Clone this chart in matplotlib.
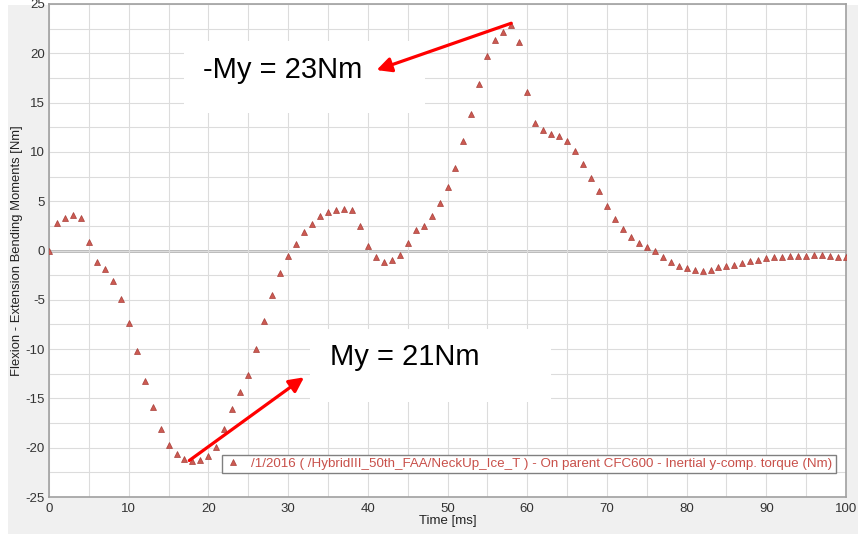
import matplotlib.pyplot as plt
from matplotlib.patches import Rectangle
import numpy as np

plt.rcParams['font.family'] = ['Liberation Sans', 'DejaVu Sans']
plt.rcParams['axes.unicode_minus'] = False

# time [ms] and neck moment My [Nm] (1 ms sampling)
time_ms = list(range(0, 101))
moment = [
    0.0, 2.8, 3.3, 3.6, 3.3, 0.9, -1.2, -1.9, -3.1, -4.9,
    -7.4, -10.2, -13.2, -15.9, -18.1, -19.7, -20.6, -21.1, -21.3, -21.2,
    -20.8, -19.9, -18.1, -16.1, -14.4, -12.6, -10.0, -7.1, -4.5, -2.3,
    -0.6, 0.7, 1.85, 2.7, 3.45, 3.9, 4.07, 4.2, 4.15, 2.45,
    0.46, -0.7, -1.17, -1.0, -0.46, 0.73, 2.06, 2.5, 3.5, 4.8,
    6.4, 8.4, 11.1, 13.8, 16.9, 19.7, 21.3, 22.2, 22.9, 21.1,
    16.1, 12.9, 12.2, 11.8, 11.6, 11.1, 10.1, 8.8, 7.4, 6.0,
    4.55, 3.2, 2.2, 1.37, 0.8, 0.39, -0.1, -0.7, -1.2, -1.54,
    -1.77, -1.95, -2.08, -2.0, -1.67, -1.57, -1.44, -1.23, -1.1, -0.96,
    -0.76, -0.66, -0.63, -0.56, -0.56, -0.52, -0.46, -0.49, -0.59, -0.63,
    -0.7,
]
series_label = ('/1/2016 ( /HybridIII_50th_FAA/NeckUp_Ice_T ) - On parent CFC600 '
                '- Inertial y-comp. torque (Nm)')

x_ticks = list(range(0, 101, 10))
y_ticks = list(range(-25, 26, 5))

# annotations: (text, text box [x0, x1, y0, y1], text position, arrow tail, arrow head)
max_label = '-My = 23Nm'
max_box = (16.9, 47.2, 13.9, 21.2)
max_text_xy = (19.3, 18.3)
max_tail = (58.0, 23.05)
max_head = (41.1, 18.3)

min_label = 'My = 21Nm'
min_box = (32.7, 63.0, -15.4, -8.0)
min_text_xy = (35.3, -10.8)
min_tail = (17.6, -21.3)
min_head = (32.0, -12.86)

fig = plt.figure(figsize=(8.58, 5.34), dpi=100)
fig.patch.set_facecolor('white')
fig.patches.append(Rectangle((8 / 858, 0), 1, 529 / 534, transform=fig.transFigure,
                             facecolor='#f0f0f0', edgecolor='none', zorder=-10))

ax = fig.add_axes([49 / 858, 1 - 497 / 534, 797 / 858, 493 / 534])
ax.set_facecolor('white')

ax.set_xlim(0, 100)
ax.set_ylim(-25, 25)
ax.set_xticks(x_ticks)
ax.set_yticks(y_ticks)
ax.set_xticks(np.arange(0, 101, 5), minor=True)
ax.set_yticks(np.arange(-25, 25.1, 2.5), minor=True)
ax.grid(True, which='both', color='#dcdcdc', linewidth=0.8, zorder=0)
ax.tick_params(which='both', length=0, labelsize=9.5, colors='#333333')
ax.tick_params(axis='x', pad=4.5)
ax.tick_params(axis='y', pad=3)
ax.axhline(0, color='#a6a6a6', linewidth=1.8, zorder=1)

for spine in ax.spines.values():
    spine.set_color('#a0a0a0')
    spine.set_linewidth(1.2)

ax.plot(time_ms, moment, linestyle='none', marker='^', markersize=4.2,
        markerfacecolor='#cc5a52', markeredgecolor='#a8403a', markeredgewidth=0.5,
        label=series_label, zorder=3)

ax.set_xlabel('Time [ms]', fontsize=9.5, color='#222222', labelpad=0)
ax.set_ylabel('Flexion - Extension Bending Moments [Nm]', fontsize=9.4,
              color='#222222')
ax.yaxis.set_label_coords(-0.033, 0.5)

# white callout boxes with the peak values
for (x0, x1, y0, y1) in (max_box, min_box):
    ax.add_patch(Rectangle((x0, y0), x1 - x0, y1 - y0, facecolor='white',
                           edgecolor='none', zorder=4))
ax.text(*max_text_xy, max_label, fontsize=21, va='center', ha='left', zorder=5)
ax.text(*min_text_xy, min_label, fontsize=21, va='center', ha='left', zorder=5)

arrow = dict(arrowstyle='-|>', color='#ff0000', lw=2.3, mutation_scale=22,
             shrinkA=0, shrinkB=0)
ax.annotate('', xy=max_head, xytext=max_tail, arrowprops=arrow, zorder=6)
ax.annotate('', xy=min_head, xytext=min_tail, arrowprops=arrow, zorder=6)

leg = ax.legend(loc='lower right', bbox_to_anchor=(0.987, 0.049), fontsize=9.6,
                frameon=True, fancybox=False, edgecolor='#808080', framealpha=1,
                borderpad=0.22, handletextpad=0.8, handlelength=1.2,
                borderaxespad=0)
leg.get_frame().set_linewidth(1.0)
for t in leg.get_texts():
    t.set_color('#c8504a')
leg.set_zorder(7)

fig.savefig('out.png', dpi=100, facecolor=fig.get_facecolor())
